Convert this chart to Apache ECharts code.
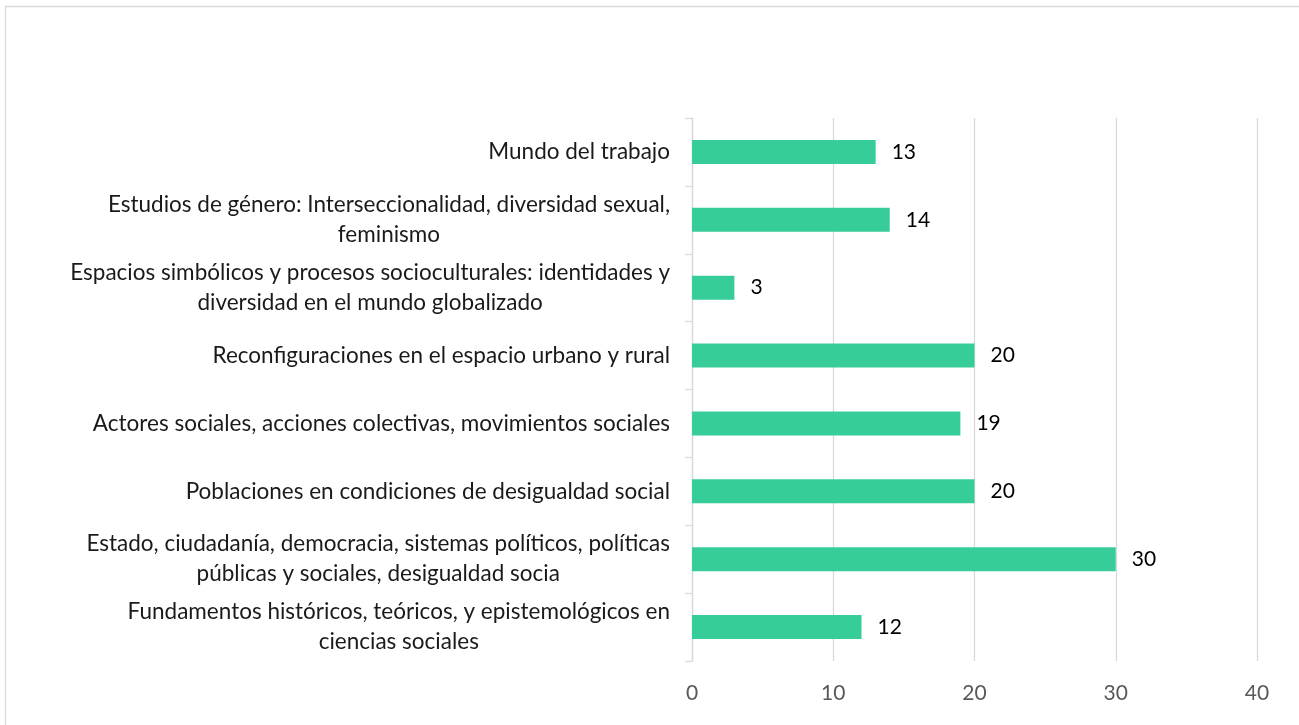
<!DOCTYPE html>
<html>
<head>
<meta charset="utf-8">
<script src="https://cdn.jsdelivr.net/npm/echarts@6/dist/echarts.min.js"></script>
<style>
html,body{margin:0;padding:0;background:#fff;}
#chart{width:1299px;height:725px;}
</style>
</head>
<body>
<div id="chart"></div>
<script>
// Categories from bottom to top
const categories = [
  "Fundamentos históricos, teóricos, y epistemológicos en\nciencias sociales",
  "Estado, ciudadanía, democracia, sistemas políticos, políticas\npúblicas y sociales, desigualdad socia",
  "Poblaciones en condiciones de desigualdad social",
  "Actores sociales, acciones colectivas, movimientos sociales",
  "Reconfiguraciones en el espacio urbano y rural",
  "Espacios simbólicos y procesos socioculturales: identidades y\ndiversidad en el mundo globalizado",
  "Estudios de género: Interseccionalidad, diversidad sexual,\nfeminismo",
  "Mundo del trabajo"
];
const values = [12, 30, 20, 19, 20, 3, 14, 13];
const xTicks = [0, 10, 20, 30, 40];

const FONT = 'Lato, "Open Sans", sans-serif';
const chart = echarts.init(document.getElementById('chart'), null, {renderer: 'canvas'});
chart.setOption({
  backgroundColor: '#ffffff',
  animation: false,
  graphic: [{
    type: 'rect',
    shape: {x: 5.5, y: 6.5, width: 1310, height: 740},
    style: {fill: 'none', stroke: '#d9d9d9', lineWidth: 1.3},
    silent: true
  }],
  grid: {left: 692, right: 42, top: 118, bottom: 64, containLabel: false},
  xAxis: {
    type: 'value',
    min: xTicks[0],
    max: xTicks[xTicks.length - 1],
    interval: 10,
    axisLine: {show: false},
    axisTick: {show: false},
    splitLine: {show: true, lineStyle: {color: '#d9d9d9', width: 1.3}},
    axisLabel: {color: '#595959', fontFamily: FONT, fontSize: 21, margin: 22}
  },
  yAxis: {
    type: 'category',
    data: categories,
    axisLine: {show: true, lineStyle: {color: '#d9d9d9', width: 1.3}},
    axisTick: {show: true, length: 7, lineStyle: {color: '#d9d9d9', width: 1.3}},
    axisLabel: {
      margin: 22,
      align: 'right',
      formatter: function (v) {
        return v.split('\n').map(function (l) { return '{c|' + l + '}'; }).join('\n');
      },
      rich: {
        c: {align: 'center', color: '#1a1a1a', fontFamily: FONT, fontSize: 22.5, lineHeight: 30}
      }
    }
  },
  series: [{
    type: 'bar',
    data: values,
    barWidth: 24,
    itemStyle: {color: '#36cd99'},
    label: {
      show: true,
      position: 'right',
      distance: 16,
      color: '#000000',
      fontFamily: FONT,
      fontSize: 21
    }
  }]
});
</script>
</body>
</html>
